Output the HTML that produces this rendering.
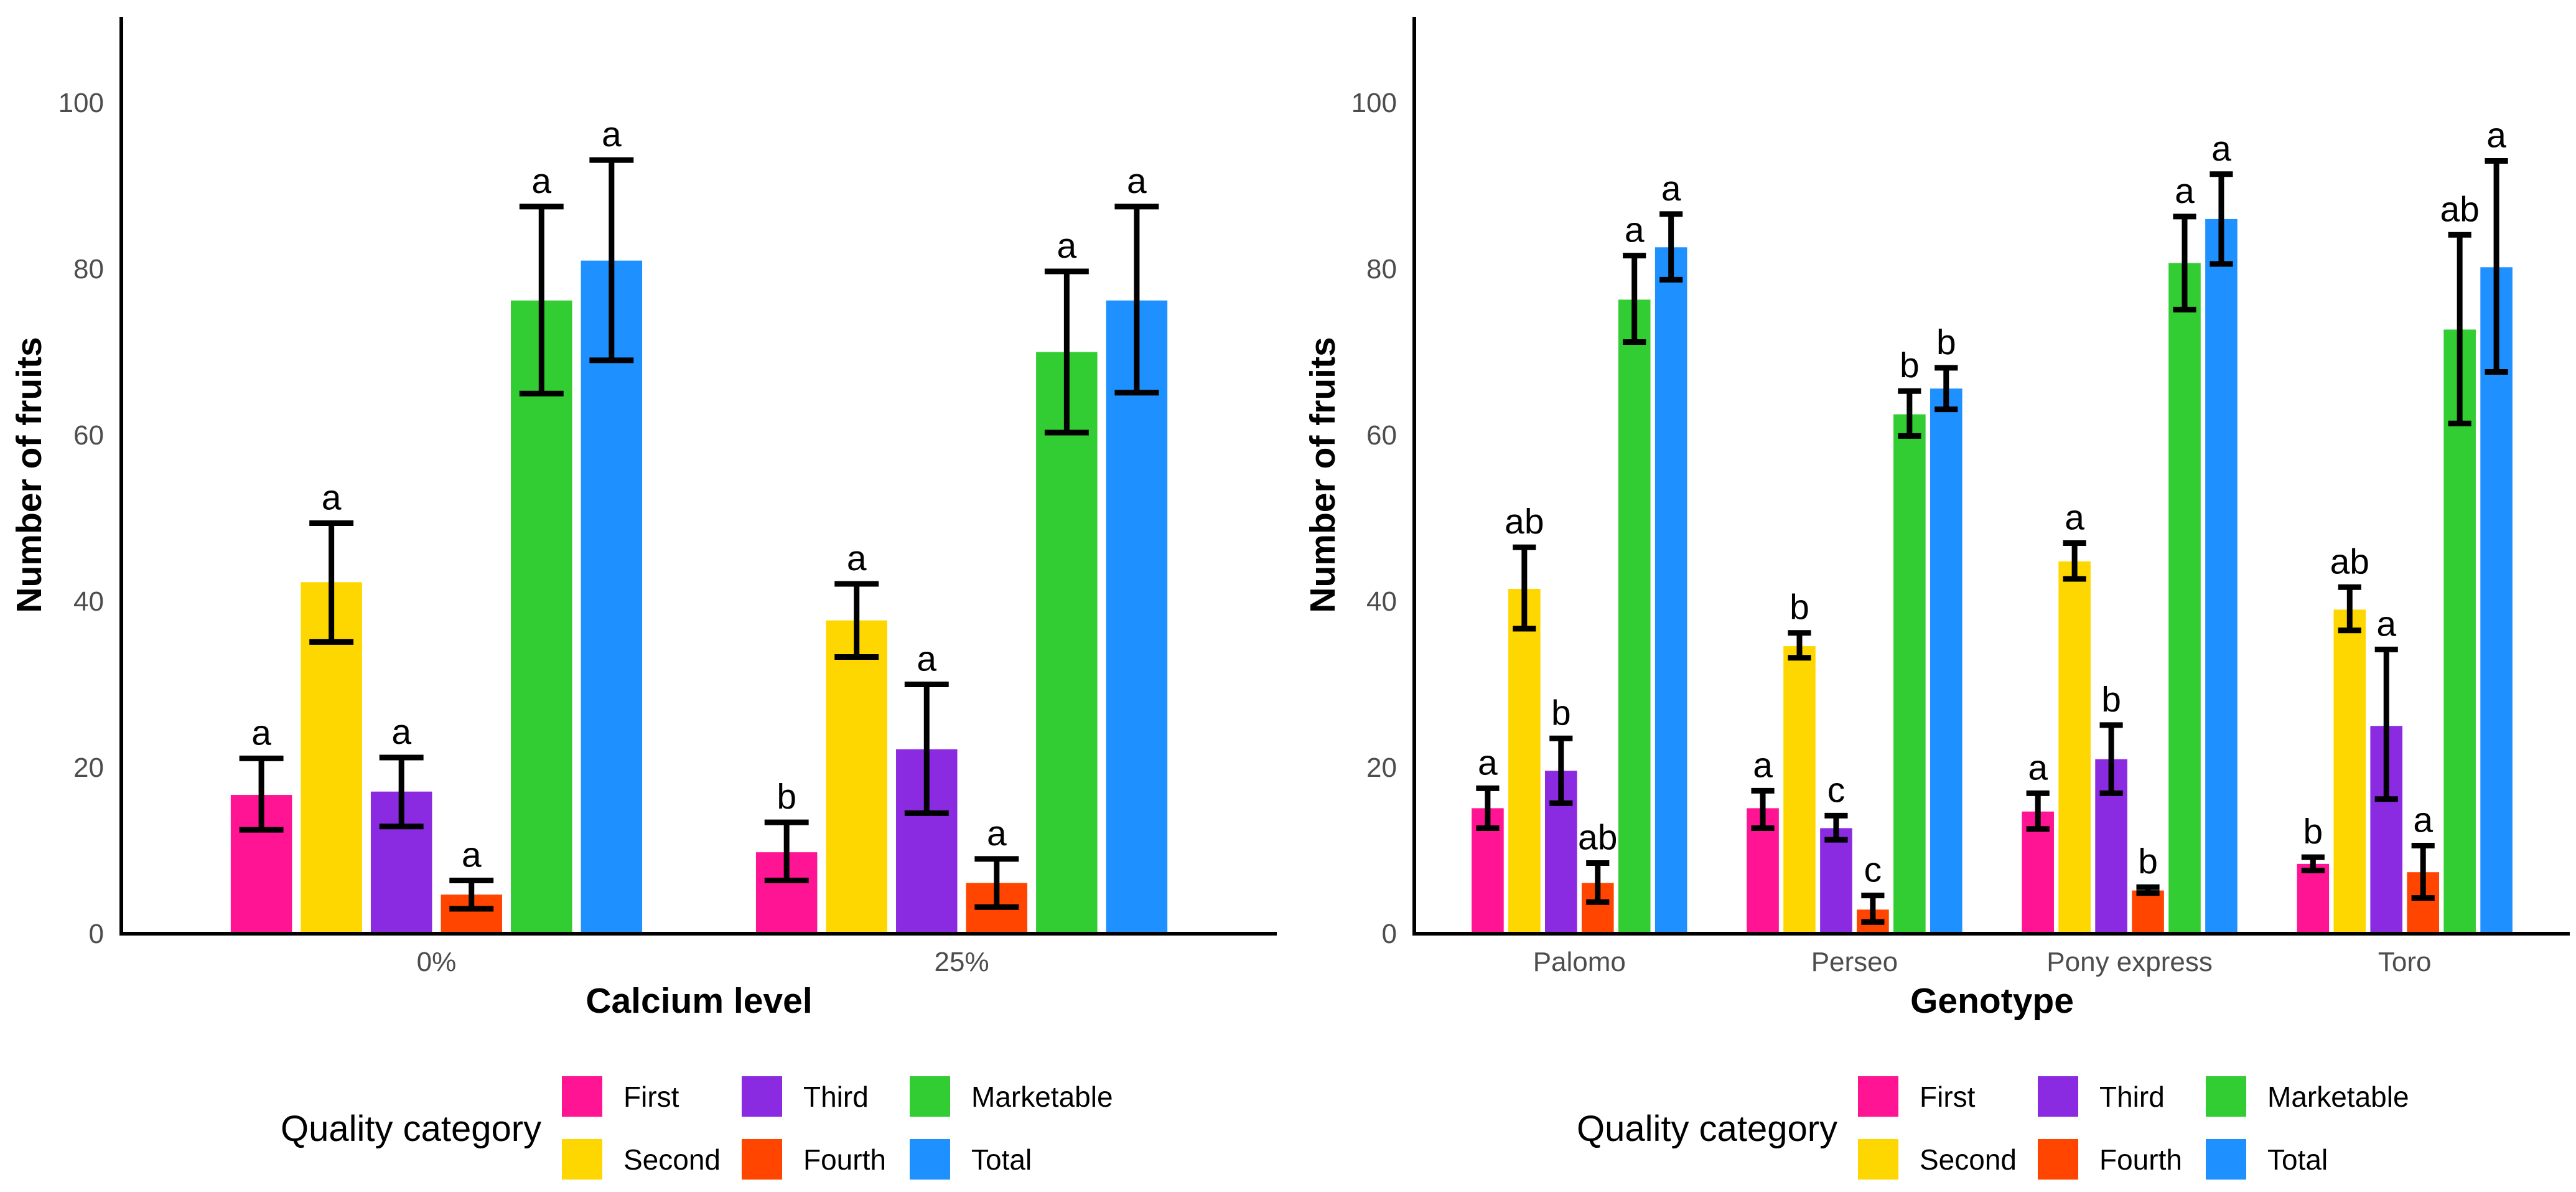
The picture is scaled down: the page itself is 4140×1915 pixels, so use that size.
<!DOCTYPE html>
<html><head><meta charset="utf-8"><style>
html,body{margin:0;padding:0;background:#fff;}
svg{display:block;font-family:"Liberation Sans",sans-serif;}
</style></head><body>
<svg id="chart" width="4140" height="1915" viewBox="0 0 4140 1915" xmlns="http://www.w3.org/2000/svg"></svg>
<script>
const seriesNames = ["First","Second","Third","Fourth","Marketable","Total"];
const seriesColors = ["#FF1493","#FFD700","#8A2BE2","#FF4500","#32CD32","#1E90FF"];
const yTicks = [0,20,40,60,80,100];

const calciumCats = ["0%","25%"];
const calciumMean = [[16.7,42.3,17.1,4.7,76.2,81.0],[9.8,37.7,22.2,6.1,70.0,76.2]];
const calciumHi = [[21.1,49.4,21.2,6.4,87.5,93.1],[13.4,42.1,30.0,9.0,79.7,87.5]];
const calciumLo = [[12.5,35.1,12.9,3.0,65.0,69.0],[6.4,33.3,14.5,3.2,60.3,65.1]];
const calciumLetters = [["a","a","a","a","a","a"],["b","a","a","a","a","a"]];

const genoCats = ["Palomo","Perseo","Pony express","Toro"];
const genoMean = [[15.1,41.5,19.6,6.1,76.3,82.6],[15.1,34.6,12.7,2.9,62.5,65.6],[14.7,44.8,21.0,5.2,80.7,86.0],[8.4,39.0,25.0,7.4,72.7,80.2]];
const genoHi = [[17.5,46.5,23.5,8.5,81.6,86.6],[17.2,36.2,14.2,4.6,65.3,68.1],[16.9,47.0,25.1,5.6,86.3,91.4],[9.2,41.7,34.2,10.6,84.1,93.0]];
const genoLo = [[12.7,36.7,15.7,3.8,71.2,78.7],[12.7,33.2,11.3,1.4,59.9,63.1],[12.6,42.7,16.9,4.9,75.1,80.6],[7.6,36.5,16.2,4.3,61.4,67.6]];
const genoLetters = [["a","ab","b","ab","a","a"],["a","b","c","c","b","b"],["a","a","b","b","a","a"],["b","ab","a","a","ab","a"]];

const NS="http://www.w3.org/2000/svg";
const svg=document.getElementById('chart');
function mk(tag,attrs,parent){const e=document.createElementNS(NS,tag);for(const k in attrs)e.setAttribute(k,attrs[k]);(parent||svg).appendChild(e);return e;}

function panel(opt){
  const g=mk('g',{});
  
  
  const x0=opt.x0,x1=opt.x1,yBase=1500,yTop=27;
  const n=opt.cats.length;
  const unit=(x1-x0)/(n-1+1.2);
  const xc=i=>x0+(0.6+i)*unit;
  const y=v=>yBase-v*13.35;
  const pitch=0.8/6, bw=0.7/6, cap=0.042;
  // ticks
  yTicks.forEach(t=>{
    const tl=mk('text',{x:x0-28,y:y(t)+15,'text-anchor':'end','font-size':44,fill:'#4d4d4d'},g);
    tl.textContent=t;
    
    
  });
  opt.cats.forEach((c,i)=>{
    const tl=mk('text',{x:xc(i),y:1560,'text-anchor':'middle','font-size':44,fill:'#4d4d4d'},g);
    tl.textContent=c;
    
    
    for(let s=0;s<6;s++){
      const cx=xc(i)+(s-2.5)*pitch*unit;
      const v=opt.mean[i][s];
      const r=mk('rect',{x:cx-bw*unit/2,y:y(v),width:bw*unit,height:yBase-y(v),fill:seriesColors[s]},g);
      
      
      const hi=y(opt.hi[i][s]),lo=y(opt.lo[i][s]),cw=cap*unit;
      const eb=mk('path',{d:`M${cx-cw},${hi}H${cx+cw}M${cx},${hi}V${lo}M${cx-cw},${lo}H${cx+cw}`,stroke:'#000','stroke-width':9,fill:'none'},g);
      
      
      const lt=mk('text',{x:cx,y:hi-22,'text-anchor':'middle','font-size':57,fill:'#000'},g);
      lt.textContent=opt.letters[i][s];
      
      
    }
  });
  const ax=mk('path',{d:`M${x0},${yTop}V${yBase}H${x1}`,stroke:'#000','stroke-width':6,fill:'none'},g);
  
  
  const yt=mk('text',{transform:`translate(${opt.ytx},763) rotate(-90)`,'text-anchor':'middle','font-size':57,'font-weight':'bold'},g);
  yt.textContent='Number of fruits';
  
  
  const xt=mk('text',{x:(x0+x1)/2,y:1627,'text-anchor':'middle','font-size':57,'font-weight':'bold'},g);
  xt.textContent=opt.xtitle;
  
  
  // legend
  const off=opt.legOff;
  const lt=mk('text',{x:451+off,y:1833,'font-size':58},g);
  lt.textContent='Quality category';
  
  
  const cols=[903,1192,1462],rows=[1729,1830];
  for(let s=0;s<6;s++){
    const kx=cols[Math.floor(s/2)]+off,ky=rows[s%2];
    const k=mk('rect',{x:kx,y:ky,width:65,height:65,fill:seriesColors[s]},g);
    
    
    const t=mk('text',{x:kx+99,y:ky+49,'font-size':46},g);
    t.textContent=seriesNames[s];
    
    
  }
}
panel({name:'calcium-panel',x0:195,x1:2052,cats:calciumCats,mean:calciumMean,hi:calciumHi,lo:calciumLo,letters:calciumLetters,ytx:66,xtitle:'Calcium level',legOff:0});
panel({name:'genotype-panel',x0:2273,x1:4130,cats:genoCats,mean:genoMean,hi:genoHi,lo:genoLo,letters:genoLetters,ytx:2145,xtitle:'Genotype',legOff:2083});
</script>
</body></html>
